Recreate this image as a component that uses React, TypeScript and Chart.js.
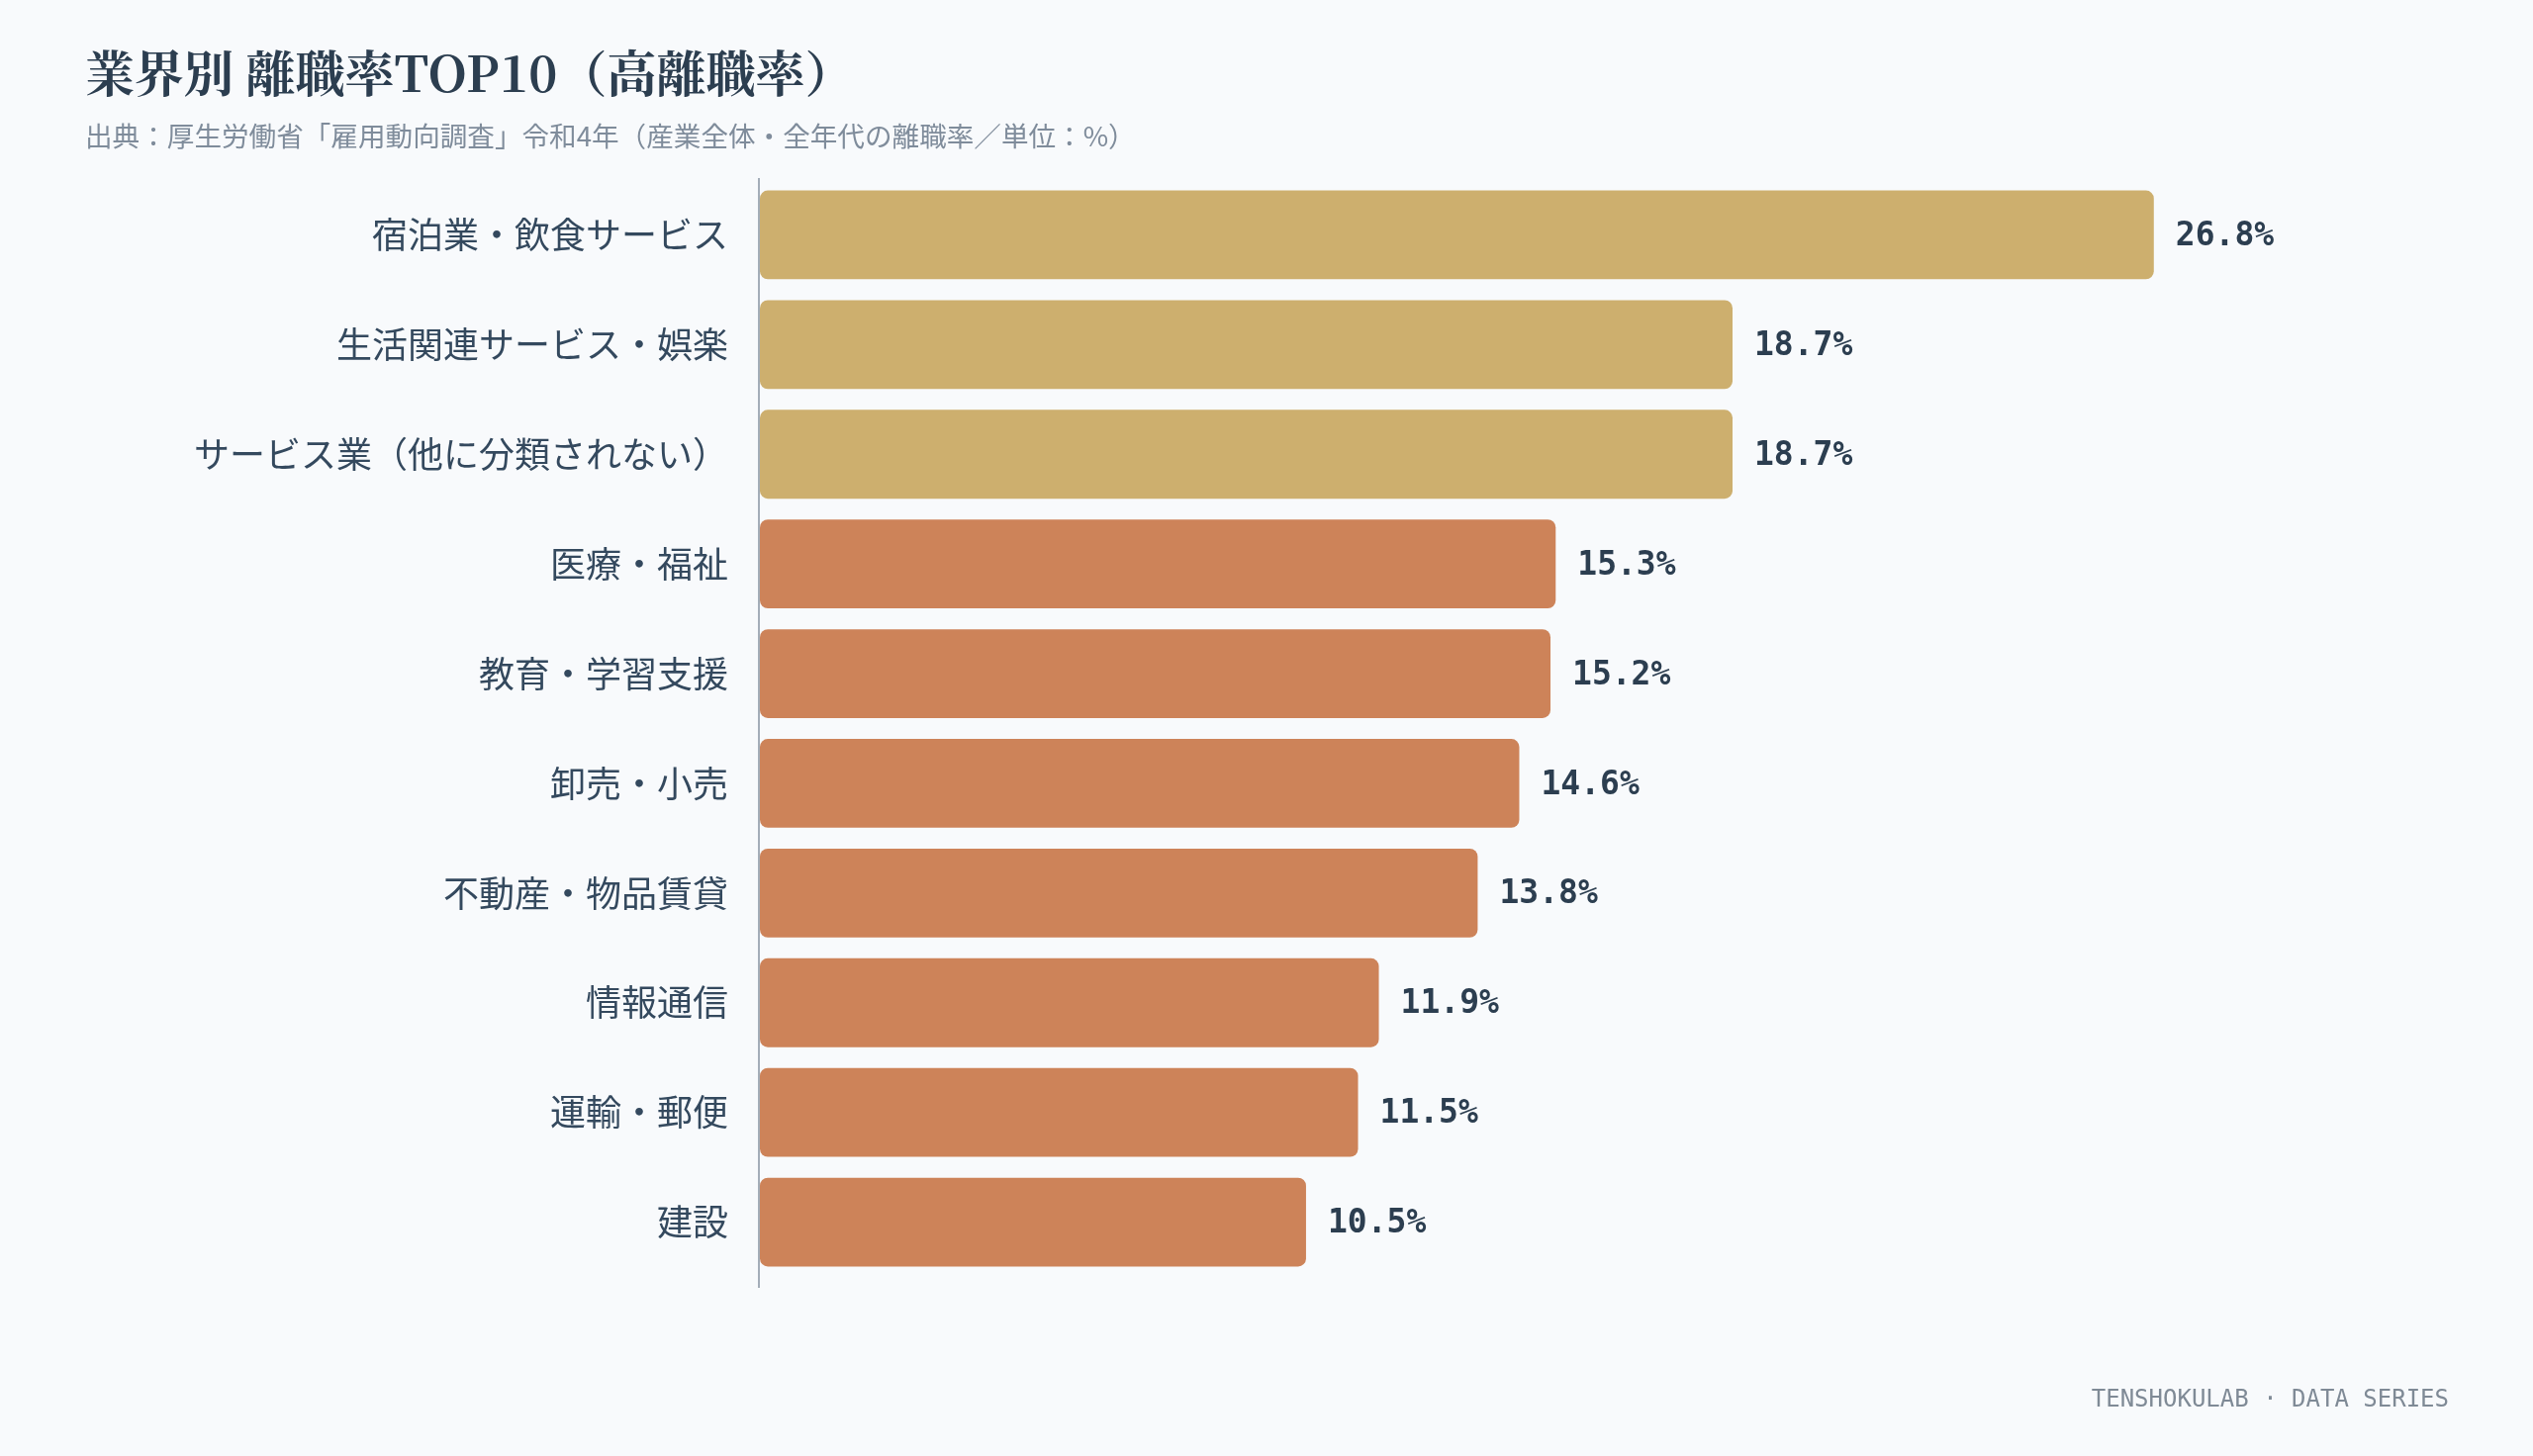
import React, { useRef, useEffect } from "react";
import { Chart, registerables } from "chart.js";

Chart.register(...registerables);

const categories = [
  "宿泊業・飲食サービス",
  "生活関連サービス・娯楽",
  "サービス業（他に分類されない）",
  "医療・福祉",
  "教育・学習支援",
  "卸売・小売",
  "不動産・物品賃貸",
  "情報通信",
  "運輸・郵便",
  "建設",
];
const rates = [26.8, 18.7, 18.7, 15.3, 15.2, 14.6, 13.8, 11.9, 11.5, 10.5];
const serviceFlags = [true, true, true, false, false, false, false, false, false, false];

const titleText = "業界別 離職率TOP10（高離職率）";
const subtitleText = "出典：厚生労働省「雇用動向調査」令和4年（産業全体・全年代の離職率／単位：%）";
const footerText = "TENSHOKULAB · DATA SERIES";

const GOLD = "#cdaf6e";
const ORANGE = "#cd8359";
const INK = "#2c3e50";

const textPlugin = {
  id: "textPlugin",
  afterDraw(chart: any) {
    const ctx = chart.ctx;
    const area = chart.chartArea;
    ctx.save();
    // axis line (runs a little past the plot area, as in the source)
    ctx.strokeStyle = "#a3adb8";
    ctx.lineWidth = 2;
    ctx.beginPath();
    ctx.moveTo(area.left - 1, area.top - 2);
    ctx.lineTo(area.left - 1, area.bottom + 11);
    ctx.stroke();
    // title + subtitle
    ctx.textAlign = "left";
    ctx.textBaseline = "alphabetic";
    ctx.fillStyle = INK;
    ctx.font = 'bold 50px "Noto Serif CJK JP", "Noto Serif JP", "DejaVu Serif", serif';
    ctx.fillText(titleText, 86, 93);
    ctx.fillStyle = "#7f8c9b";
    ctx.font = '27.6px "Noto Sans CJK JP", "Noto Sans", sans-serif';
    ctx.fillText(subtitleText, 86, 148);
    // footer
    ctx.textAlign = "right";
    ctx.fillStyle = "#7f8a96";
    ctx.font = '24px "DejaVu Sans Mono", monospace';
    ctx.fillText(footerText, 2475, 1422);
    // value labels
    const meta = chart.getDatasetMeta(0);
    ctx.textAlign = "left";
    ctx.textBaseline = "middle";
    ctx.fillStyle = INK;
    ctx.font = 'bold 33px "DejaVu Sans Mono", monospace';
    meta.data.forEach((bar: any, i: number) => {
      ctx.fillText(rates[i].toFixed(1) + "%", bar.x + 22, bar.y + 2);
    });
    ctx.restore();
  },
};

const bgPlugin = {
  id: "bgPlugin",
  beforeDraw(chart: any) {
    const ctx = chart.ctx;
    ctx.save();
    ctx.fillStyle = "#f8fafc";
    ctx.fillRect(0, 0, chart.width, chart.height);
    ctx.restore();
  },
};

const App: React.FC = () => {
  const chartRef = useRef<HTMLCanvasElement>(null);

  useEffect(() => {
    document.body.style.margin = "0";
    document.body.style.background = "#f8fafc";
    if (!chartRef.current) return;
    const ctx = chartRef.current.getContext("2d");
    if (!ctx) return;
    const chart = new Chart(ctx, {
      type: "bar",
      data: {
        labels: categories,
        datasets: [
          {
            data: rates,
            backgroundColor: serviceFlags.map((s) => (s ? GOLD : ORANGE)),
            borderWidth: 0,
            borderRadius: 8,
            borderSkipped: false,
            barPercentage: 0.81,
            categoryPercentage: 1,
          },
        ],
      },
      options: {
        indexAxis: "y",
        animation: false,
        responsive: true,
        maintainAspectRatio: false,
        layout: { padding: { top: 182, bottom: 181, left: 0, right: 215 } },
        scales: {
          x: {
            display: false,
            min: 0,
            max: 30,
          },
          y: {
            afterFit: (scale: any) => {
              scale.width = 768;
            },
            grid: { display: false },
            border: { display: false },
            ticks: {
              padding: 24,
              color: "#34495e",
              font: { family: '"Noto Sans CJK JP", "Noto Sans", sans-serif', size: 36 },
            },
          },
        },
        plugins: {
          legend: { display: false },
          tooltip: { enabled: false },
        },
      },
      plugins: [bgPlugin, textPlugin],
    });
    return () => {
      chart.destroy();
    };
  }, []);

  return (
    <div style={{ width: 2560, height: 1472, position: "relative", background: "#f8fafc" }}>
      <canvas ref={chartRef} />
    </div>
  );
};

export default App;
